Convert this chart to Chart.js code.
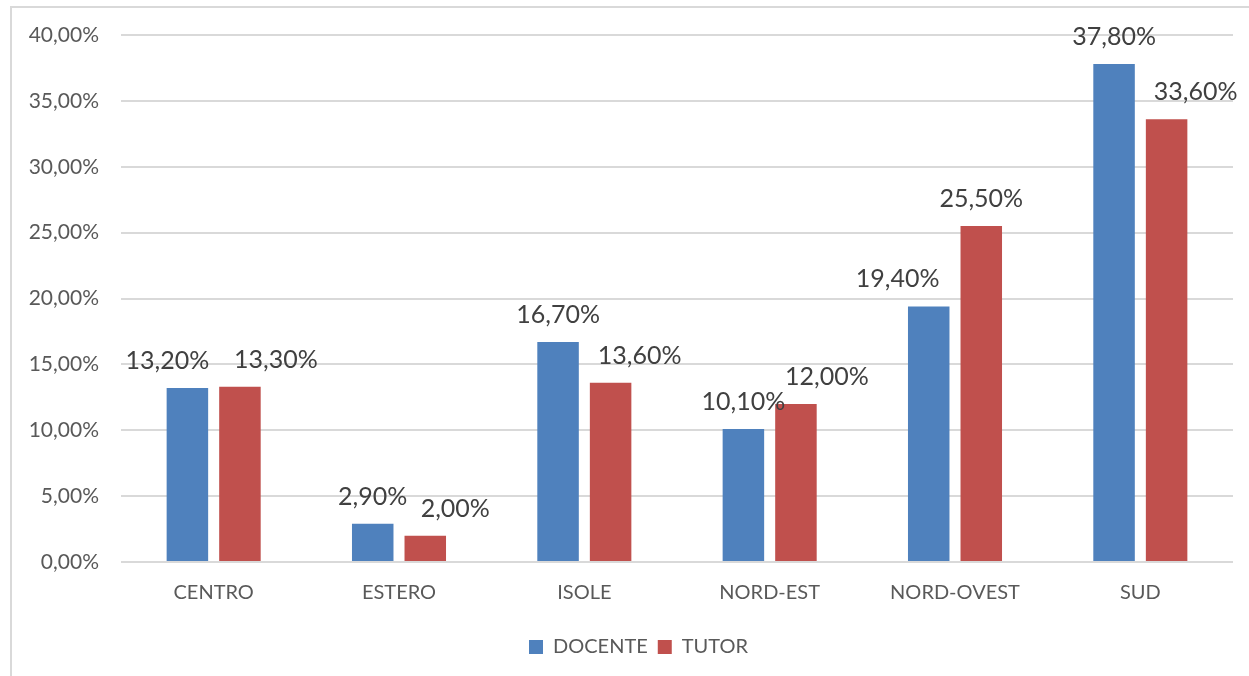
<!DOCTYPE html>
<html>
<head>
<meta charset="utf-8">
<script src="https://cdn.jsdelivr.net/npm/chart.js@4.4.1/dist/chart.umd.min.js"></script>
<style>
  html, body { margin: 0; padding: 0; background: #fff; overflow: hidden; }
  .frame { position: absolute; left: 10px; top: 6px; width: 1300px; height: 700px; border: 2px solid #d9d9d9; }
  .wrap { position: absolute; left: 0; top: 0; width: 1249px; height: 676px; }
</style>
</head>
<body>
<div class="frame"></div>
<div class="wrap"><canvas id="regionChart" width="1249" height="676"></canvas></div>
<script>
// regions on the x axis
const regions = ['CENTRO', 'ESTERO', 'ISOLE', 'NORD-EST', 'NORD-OVEST', 'SUD'];
// percent values per series
const docente = [13.2, 2.9, 16.7, 10.1, 19.4, 37.8];
const tutor = [13.3, 2.0, 13.6, 12.0, 25.5, 33.6];
// y axis ticks
const yTicks = [0, 5, 10, 15, 20, 25, 30, 35, 40];

// label nudges (px) so they sit like in the original
const docenteLabelShift = [-20, 0, 0, 0, -31, 0];
const tutorLabelShift = [36, 30, 29, 31, 0, 29];

const FONT = 'Lato, "Open Sans", sans-serif';

const fmt = v => v.toFixed(2).replace('.', ',') + '%';

const valueLabels = {
  id: 'valueLabels',
  afterDatasetsDraw(chart) {
    const ctx = chart.ctx;
    const shifts = [docenteLabelShift, tutorLabelShift];
    ctx.save();
    ctx.font = '25px ' + FONT;
    ctx.fillStyle = '#404040';
    ctx.textAlign = 'center';
    ctx.textBaseline = 'middle';
    chart.data.datasets.forEach((ds, di) => {
      chart.getDatasetMeta(di).data.forEach((bar, i) => {
        ctx.fillText(fmt(ds.data[i]), bar.x + shifts[di][i], bar.y - 27);
      });
    });
    ctx.restore();
  }
};

// legend sits a bit right of the canvas centre in the original
const legendNudge = {
  id: 'legendNudge',
  afterLayout(chart) {
    chart.legend.left += 22;
    chart.legend.right += 22;
  }
};

new Chart(document.getElementById('regionChart'), {
  type: 'bar',
  data: {
    labels: regions,
    datasets: [
      { label: 'DOCENTE', data: docente, backgroundColor: '#4f81bd' },
      { label: 'TUTOR', data: tutor, backgroundColor: '#c0504d' }
    ]
  },
  options: {
    responsive: false,
    animation: false,
    layout: { padding: { left: 0, right: 16, top: 35, bottom: 9 } },
    datasets: { bar: { categoryPercentage: 0.567, barPercentage: 0.79 } },
    scales: {
      y: {
        min: 0,
        max: 40,
        afterBuildTicks: s => { s.ticks = yTicks.map(v => ({ value: v })); },
        afterFit: s => { s.width = 121; },
        border: { display: false },
        grid: { color: '#d9d9d9', lineWidth: 2, drawTicks: false },
        ticks: {
          padding: 22,
          color: '#595959',
          font: { family: FONT, size: 21 },
          callback: v => fmt(v)
        }
      },
      x: {
        afterFit: s => { s.height = 65; },
        border: { display: false },
        grid: { display: false },
        ticks: {
          padding: 11,
          color: '#595959',
          font: { family: FONT, size: 20 }
        }
      }
    },
    plugins: {
      tooltip: { enabled: false },
      legend: {
        position: 'bottom',
        labels: {
          boxWidth: 14,
          boxHeight: 14,
          padding: 10,
          color: '#595959',
          font: { family: FONT, size: 20 }
        }
      }
    }
  },
  plugins: [valueLabels, legendNudge]
});
</script>
</body>
</html>
